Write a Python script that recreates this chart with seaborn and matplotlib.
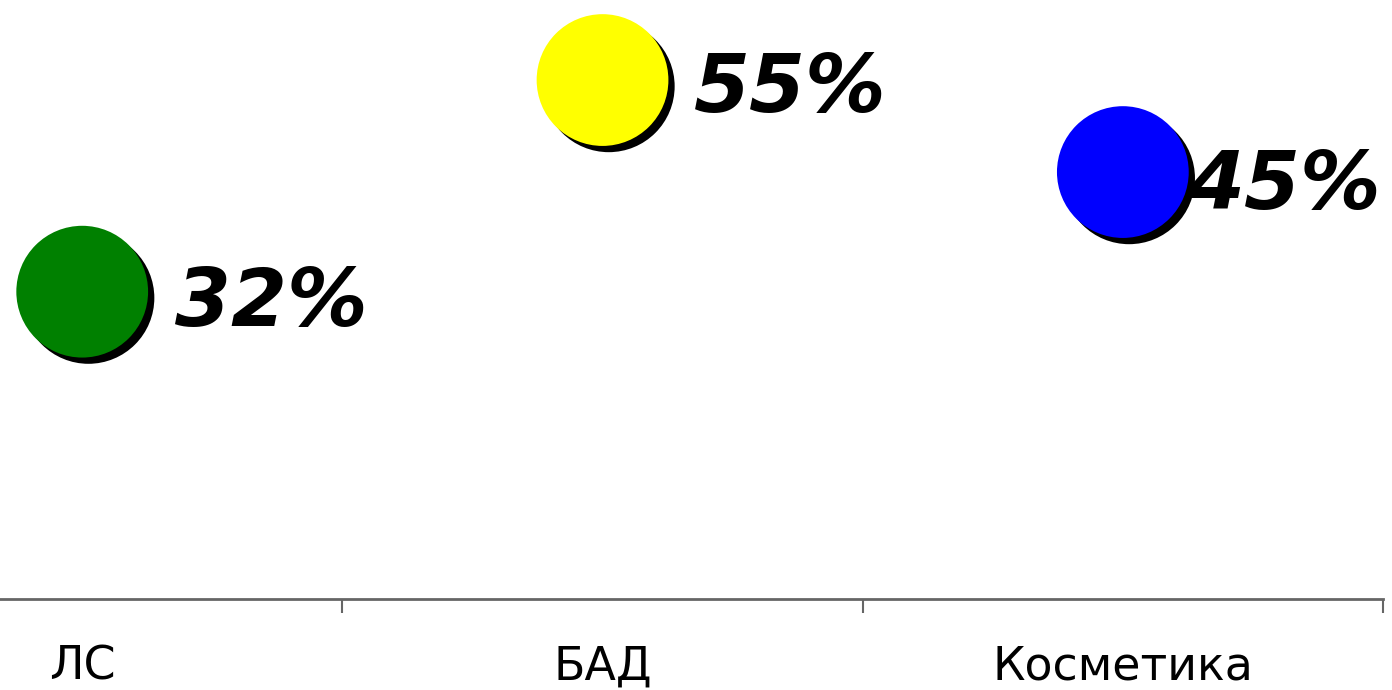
import seaborn as sns
import pandas as pd
import matplotlib.pyplot as plt
import matplotlib.patheffects as pe
from matplotlib.ticker import FixedLocator, NullFormatter

# product categories and share values (%)
categories = ["ЛС", "БАД", "Косметика"]
values = [32, 55, 45]
colors = ["#008000", "#FFFF00", "#0000FF"]
label_offsets = [(67, -9), (66, -7), (47, -11)]  # points, right of each bubble

df = pd.DataFrame({"category": categories, "share": values})

sns.set_style("white")
plt.rcParams["font.family"] = ["DejaVu Sans"]
plt.rcParams["text.color"] = "black"
plt.rcParams["xtick.color"] = "#666666"
plt.rcParams["xtick.labelcolor"] = "black"

fig = plt.figure(figsize=(13.92, 6.9), dpi=100)
ax = fig.add_axes([0, 91 / 690, 1383 / 1392, 599 / 690])

sns.scatterplot(
    data=df,
    x="category",
    y="share",
    hue="category",
    palette=colors,
    s=9000,
    linewidth=0,
    legend=False,
    ax=ax,
)
for coll in ax.collections:
    coll.set_path_effects(
        [pe.SimplePatchShadow(offset=(4.5, -4.5), shadow_rgbFace="black", alpha=1.0), pe.Normal()]
    )

for i, (v, off) in enumerate(zip(values, label_offsets)):
    ax.annotate(
        f"{v}%",
        xy=(i, v),
        xytext=off,
        textcoords="offset points",
        fontsize=58,
        fontweight="bold",
        fontstyle="italic",
        color="black",
        va="center",
        ha="left",
    )

ax.set_xlim(-0.158, 2.5)
ax.set_ylim(-1.4, 63.7)

# boundary ticks on the axis, labels centred on categories
ax.xaxis.set_major_locator(FixedLocator([0.5, 1.5, 2.5]))
ax.xaxis.set_major_formatter(NullFormatter())
ax.xaxis.set_minor_locator(FixedLocator([0, 1, 2]))
ax.set_xticklabels(categories, minor=True)
ax.tick_params(axis="x", which="major", bottom=True, length=10, width=1.5,
               color="#666666", direction="out")
ax.tick_params(axis="x", which="minor", bottom=True, length=0, pad=33,
               labelsize=33, labelcolor="black")
ax.set_yticks([])
ax.set_xlabel("")
ax.set_ylabel("")

for side in ["top", "right", "left"]:
    ax.spines[side].set_visible(False)
ax.spines["bottom"].set_color("#666666")
ax.spines["bottom"].set_linewidth(2)

fig.savefig("out.png", dpi=100)
